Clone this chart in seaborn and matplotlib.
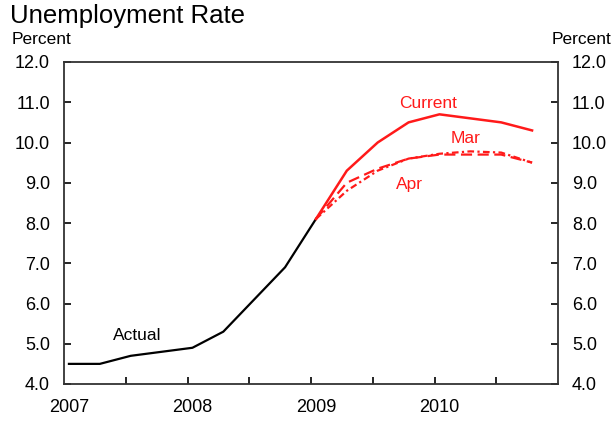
import numpy as np
import pandas as pd
import matplotlib
matplotlib.use("Agg")
import matplotlib.pyplot as plt
import seaborn as sns

# quarterly data, 2007Q1 - 2009Q1 (actual) and 2009Q1 - 2010Q4 (projections)
actual_quarters = ["2007Q1", "2007Q2", "2007Q3", "2007Q4", "2008Q1",
                   "2008Q2", "2008Q3", "2008Q4", "2009Q1"]
actual_rate = [4.5, 4.5, 4.7, 4.8, 4.9, 5.3, 6.1, 6.9, 8.1]

proj_quarters = ["2009Q1", "2009Q2", "2009Q3", "2009Q4",
                 "2010Q1", "2010Q2", "2010Q3", "2010Q4"]
current_rate = [8.1, 9.3, 10.0, 10.5, 10.7, 10.6, 10.5, 10.3]
mar_rate = [8.1, 8.8, 9.3, 9.6, 9.72, 9.78, 9.75, 9.5]
apr_rate = [8.1, 9.0, 9.35, 9.6, 9.7, 9.7, 9.7, 9.5]

year_labels = [2007, 2008, 2009, 2010]


def q_to_num(q):
    return int(q[:4]) + (int(q[-1]) - 1) / 4


red = "#ff1a1a"
plt.rcParams["font.family"] = ["Liberation Sans", "DejaVu Sans"]

fig = plt.figure(figsize=(6.13, 4.24), dpi=100)
ax = fig.add_axes([64 / 613, 1 - 384 / 424, 494 / 613, 322 / 424])

act = pd.DataFrame({"x": [q_to_num(q) for q in actual_quarters], "y": actual_rate})
proj = pd.DataFrame({"x": [q_to_num(q) for q in proj_quarters],
                     "cur": current_rate, "mar": mar_rate, "apr": apr_rate})

sns.lineplot(data=act, x="x", y="y", ax=ax, color="black", lw=1.6)
sns.lineplot(data=proj, x="x", y="apr", ax=ax, color=red, lw=1.6,
             linestyle=(0, (5, 2.5)))
sns.lineplot(data=proj, x="x", y="mar", ax=ax, color=red, lw=1.6,
             linestyle=(0, (3, 1.5, 1, 1.5)))
sns.lineplot(data=proj, x="x", y="cur", ax=ax, color=red, lw=1.8)

x0 = 2006.96
ax.set_xlim(x0, x0 + 4)
ax.set_ylim(4, 12)
ax.set_yticks(np.arange(4, 12.1, 1))
ax.yaxis.set_major_formatter(matplotlib.ticker.FormatStrFormatter("%.1f"))
ax.set_xticks(year_labels)
ax.set_xticklabels([str(y) for y in year_labels])
ax.set_xticks([x0 + 0.5 * k for k in range(1, 8)], minor=True)
ax.tick_params(axis="x", which="major", length=0, pad=11, labelsize=13)
ax.tick_params(axis="x", which="minor", direction="in", length=5, width=1.2)
ax.tick_params(axis="y", direction="in", length=5, width=1.2, labelsize=13,
               left=True, right=True, labelleft=True, labelright=True)
ax.tick_params(axis="y", which="major", pad=10)
ax.set_xlabel("")
ax.set_ylabel("")
for s in ax.spines.values():
    s.set_linewidth(1.3)
    s.set_color("#333333")

ax.text(2007.36, 5.2, "Actual", fontsize=12.5, ha="left", va="center")
ax.text(2009.675, 10.98, "Current", fontsize=12.5, color=red, ha="left", va="center")
ax.text(2010.09, 10.1, "Mar", fontsize=12.5, color=red, ha="left", va="center")
ax.text(2009.65, 8.95, "Apr", fontsize=12.5, color=red, ha="left", va="center")

fig.text(10 / 613, 1 - 16 / 424, "Unemployment Rate", fontsize=18.5, ha="left", va="center")
fig.text(12 / 613, 1 - 40 / 424, "Percent", fontsize=12.5, ha="left", va="center")
fig.text(611 / 613, 1 - 40 / 424, "Percent", fontsize=12.5, ha="right", va="center")

fig.savefig("out.png", dpi=100)
